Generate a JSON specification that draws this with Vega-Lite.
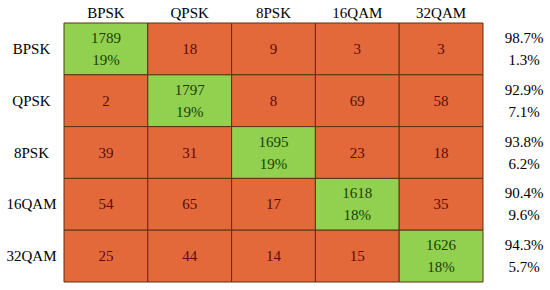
{
  "$schema": "https://vega.github.io/schema/vega-lite/v6.json",
  "padding": {"left": 5, "top": 5, "right": 0, "bottom": 5},
  "config": {"font": "Times New Roman", "view": {"stroke": null}, "concat": {"spacing": 0}},
  "datasets": {
    "cells": [
      {"actual": "BPSK", "predicted": "BPSK", "count": 1789, "pct": "19%", "kind": "correct"},
      {"actual": "BPSK", "predicted": "QPSK", "count": 18, "pct": "", "kind": "wrong"},
      {"actual": "BPSK", "predicted": "8PSK", "count": 9, "pct": "", "kind": "wrong"},
      {"actual": "BPSK", "predicted": "16QAM", "count": 3, "pct": "", "kind": "wrong"},
      {"actual": "BPSK", "predicted": "32QAM", "count": 3, "pct": "", "kind": "wrong"},
      {"actual": "QPSK", "predicted": "BPSK", "count": 2, "pct": "", "kind": "wrong"},
      {"actual": "QPSK", "predicted": "QPSK", "count": 1797, "pct": "19%", "kind": "correct"},
      {"actual": "QPSK", "predicted": "8PSK", "count": 8, "pct": "", "kind": "wrong"},
      {"actual": "QPSK", "predicted": "16QAM", "count": 69, "pct": "", "kind": "wrong"},
      {"actual": "QPSK", "predicted": "32QAM", "count": 58, "pct": "", "kind": "wrong"},
      {"actual": "8PSK", "predicted": "BPSK", "count": 39, "pct": "", "kind": "wrong"},
      {"actual": "8PSK", "predicted": "QPSK", "count": 31, "pct": "", "kind": "wrong"},
      {"actual": "8PSK", "predicted": "8PSK", "count": 1695, "pct": "19%", "kind": "correct"},
      {"actual": "8PSK", "predicted": "16QAM", "count": 23, "pct": "", "kind": "wrong"},
      {"actual": "8PSK", "predicted": "32QAM", "count": 18, "pct": "", "kind": "wrong"},
      {"actual": "16QAM", "predicted": "BPSK", "count": 54, "pct": "", "kind": "wrong"},
      {"actual": "16QAM", "predicted": "QPSK", "count": 65, "pct": "", "kind": "wrong"},
      {"actual": "16QAM", "predicted": "8PSK", "count": 17, "pct": "", "kind": "wrong"},
      {"actual": "16QAM", "predicted": "16QAM", "count": 1618, "pct": "18%", "kind": "correct"},
      {"actual": "16QAM", "predicted": "32QAM", "count": 35, "pct": "", "kind": "wrong"},
      {"actual": "32QAM", "predicted": "BPSK", "count": 25, "pct": "", "kind": "wrong"},
      {"actual": "32QAM", "predicted": "QPSK", "count": 44, "pct": "", "kind": "wrong"},
      {"actual": "32QAM", "predicted": "8PSK", "count": 14, "pct": "", "kind": "wrong"},
      {"actual": "32QAM", "predicted": "16QAM", "count": 15, "pct": "", "kind": "wrong"},
      {"actual": "32QAM", "predicted": "32QAM", "count": 1626, "pct": "18%", "kind": "correct"}
    ],
    "rows": [
      {"actual": "BPSK", "right": "98.7%", "wrongRate": "1.3%"},
      {"actual": "QPSK", "right": "92.9%", "wrongRate": "7.1%"},
      {"actual": "8PSK", "right": "93.8%", "wrongRate": "6.2%"},
      {"actual": "16QAM", "right": "90.4%", "wrongRate": "9.6%"},
      {"actual": "32QAM", "right": "94.3%", "wrongRate": "5.7%"}
    ]
  },
  "hconcat": [
    {
      "width": 419,
      "height": 259,
      "data": {"name": "cells"},
      "encoding": {
        "x": {
          "field": "predicted", "type": "nominal",
          "sort": ["BPSK", "QPSK", "8PSK", "16QAM", "32QAM"],
          "scale": {"paddingInner": 0, "paddingOuter": 0},
          "axis": {"orient": "top", "title": null, "ticks": false, "domain": false, "labelAngle": 0, "labelFontSize": 15, "labelColor": "#000", "labelPadding": 3, "labelFont": "Times New Roman", "labelFontWeight": "normal"}
        },
        "y": {
          "field": "actual", "type": "nominal",
          "sort": ["BPSK", "QPSK", "8PSK", "16QAM", "32QAM"],
          "scale": {"paddingInner": 0, "paddingOuter": 0},
          "axis": {"title": null, "ticks": false, "domain": false, "labelFontSize": 15, "labelColor": "#000", "labelAlign": "center", "labelPadding": 33, "labelFont": "Times New Roman", "labelFontWeight": "normal"}
        }
      },
      "layer": [
        {
          "mark": {"type": "rect", "stroke": "#5a3312", "strokeWidth": 1},
          "encoding": {
            "color": {"field": "kind", "type": "nominal", "scale": {"domain": ["correct", "wrong"], "range": ["#92D050", "#E4693A"]}, "legend": null}
          }
        },
        {
          "transform": [{"filter": "datum.pct == ''"}],
          "mark": {"type": "text", "fontSize": 15, "font": "Times New Roman", "color": "#5C0A0A"},
          "encoding": {
            "text": {"field": "count", "type": "quantitative"}
          }
        },
        {
          "transform": [{"filter": "datum.pct != ''"}],
          "mark": {"type": "text", "fontSize": 15, "font": "Times New Roman", "color": "#183F06", "dy": -11},
          "encoding": {
            "text": {"field": "count", "type": "quantitative", "format": "d"}
          }
        },
        {
          "transform": [{"filter": "datum.pct != ''"}],
          "mark": {"type": "text", "fontSize": 15, "font": "Times New Roman", "color": "#183F06", "dy": 11},
          "encoding": {
            "text": {"field": "pct", "type": "nominal"}
          }
        }
      ]
    },
    {
      "width": 64,
      "height": 259,
      "data": {"name": "rows"},
      "encoding": {
        "y": {
          "field": "actual", "type": "nominal",
          "sort": ["BPSK", "QPSK", "8PSK", "16QAM", "32QAM"],
          "scale": {"paddingInner": 0, "paddingOuter": 0},
          "axis": null
        }
      },
      "layer": [
        {
          "mark": {"type": "text", "fontSize": 15, "dx": 8, "dy": -11, "color": "#000", "font": "Times New Roman"},
          "encoding": {"text": {"field": "right", "type": "nominal"}}
        },
        {
          "mark": {"type": "text", "fontSize": 15, "dx": 8, "dy": 11, "color": "#000", "font": "Times New Roman"},
          "encoding": {"text": {"field": "wrongRate", "type": "nominal"}}
        }
      ]
    }
  ]
}
